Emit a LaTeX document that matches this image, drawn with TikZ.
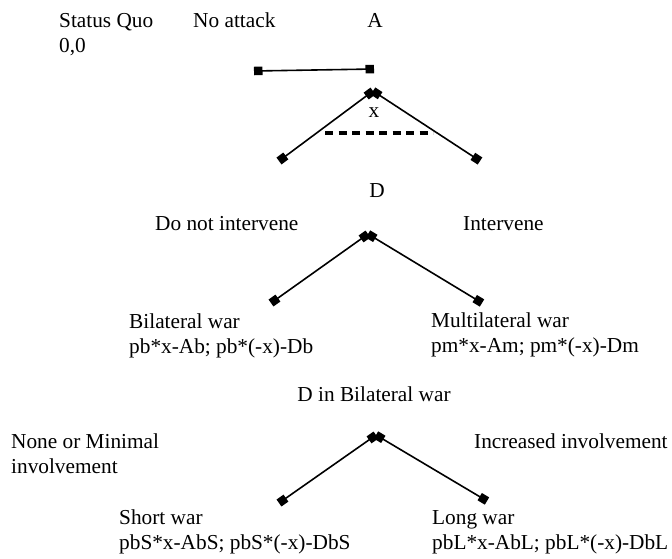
\documentclass[tikz,border=0pt]{standalone}
\usepackage{fontspec}
\setmainfont{Liberation Serif}
\usetikzlibrary{arrows.meta}
\begin{document}
\begin{tikzpicture}[x=1pt,y=-1pt,
  lbl/.style={anchor=base west, inner sep=0pt, align=left, font=\fontsize{21.3}{25}\selectfont},
  clbl/.style={lbl, anchor=base},
  edge/.style={line width=1.6pt, {Square[length=8.5pt,width=8.5pt]}-{Square[length=8.5pt,width=8.5pt]}},
  dashline/.style={line width=3.5pt, dash pattern=on 8pt off 5.5pt}]
\useasboundingbox (0,0) rectangle (672,558);
% top: status quo (multi-line labels are anchored at their last baseline)
\node[lbl] (sq) at (59,52) {Status Quo\\0,0};
\node[lbl] (na) at (193,27) {No attack};
\node[clbl] (pA) at (375,27) {A};
\coordinate (t1) at (254,71);
\coordinate (t2) at (374,69);
\draw[edge] (t1) -- (t2);
% A's choice
\coordinate (a1) at (373,91);
\coordinate (a1l) at (279,161);
\coordinate (a1r) at (480,161);
\draw[edge] (a1) -- (a1l);
\draw[edge] (a1) -- (a1r);
\node[clbl] (x1) at (374,117) {x};
\coordinate (d1) at (325,133);
\coordinate (d2) at (433,133);
\draw[dashline] (d1) -- (d2);
% D's choice
\node[clbl] (D1) at (377,197) {D};
\node[lbl] (dni) at (155,230) {Do not intervene};
\node[lbl] (int) at (463,230) {Intervene};
\coordinate (a2) at (368,234);
\coordinate (a2l) at (271,303);
\coordinate (a2r) at (482,303);
\draw[edge] (a2) -- (a2l);
\draw[edge] (a2) -- (a2r);
\node[lbl] (bw) at (129,353) {Bilateral war\\pb*x-Ab; pb*(-x)-Db};
\node[lbl] (mw) at (431,352) {Multilateral war\\pm*x-Am; pm*(-x)-Dm};
% D in bilateral war
\node[clbl] (dbw) at (374,401) {D in Bilateral war};
\node[lbl] (nmi) at (11,473) {None or Minimal\\involvement};
\node[lbl] (ii) at (474,448) {Increased involvement};
\coordinate (a3) at (376,435);
\coordinate (a3l) at (279,503);
\coordinate (a3r) at (487,501);
\draw[edge] (a3) -- (a3l);
\draw[edge] (a3) -- (a3r);
\node[lbl] (sw) at (119,549) {Short war\\pbS*x-AbS; pbS*(-x)-DbS};
\node[lbl] (lw) at (432,549) {Long war\\pbL*x-AbL; pbL*(-x)-DbL};
\end{tikzpicture}
\end{document}
